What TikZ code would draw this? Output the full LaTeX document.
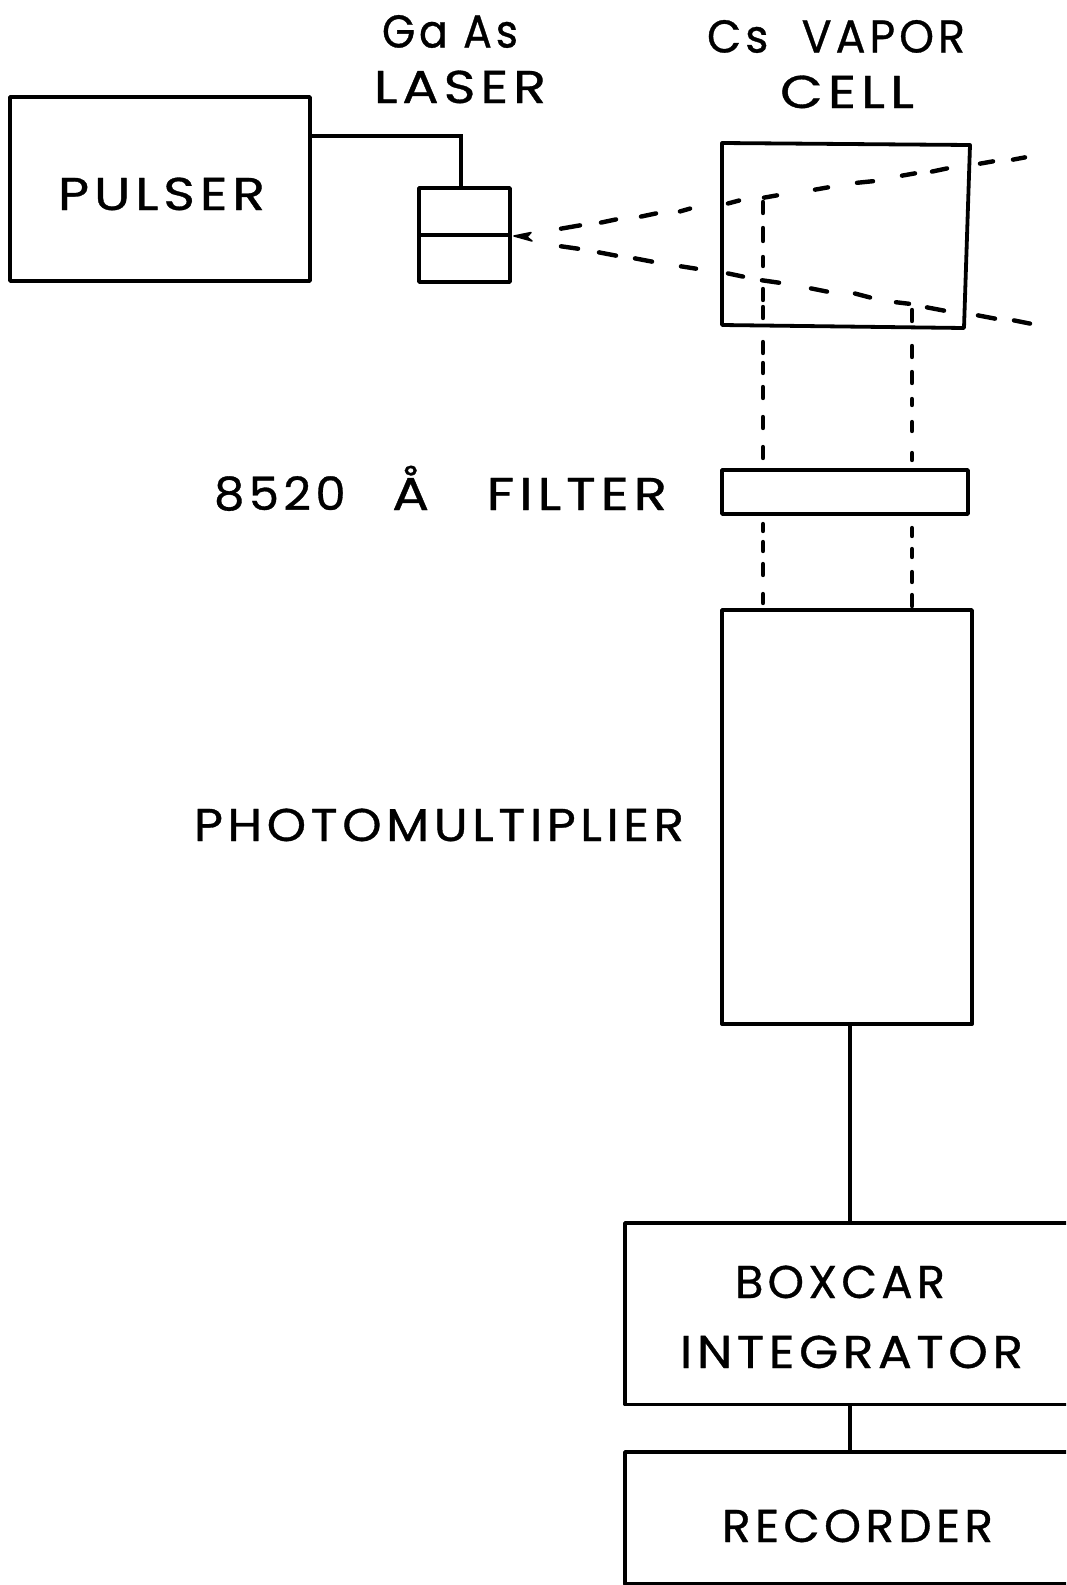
\documentclass[tikz,border=0pt]{standalone}
\usepackage{fontspec}
\setmainfont{Poppins}
\newfontfamily\lblfont[LetterSpace=9,FakeBold=0.7]{Poppins}
\newsavebox{\fitbox}
\newlength{\fitlen}
\newcommand{\fitlbl}[5]{% name, x0, x1, baseline, text
  \pgfmathsetmacro{\fitmid}{(#2+#3)/2}%
  \node[lbl] (#1) at (\fitmid,#4) {%
    \sbox{\fitbox}{\fontsize{46}{50}\selectfont\lblfont #5}%
    \setlength{\fitlen}{\wd\fitbox}%
    \pgfmathsetmacro{\fitratio}{(#3-#2)/\fitlen}%
    \scalebox{\fitratio}[1]{\usebox{\fitbox}}};}
\tikzset{
  boxnode/.style={draw=black,line width=3.8pt,inner sep=0pt,outer sep=0pt,line join=round},
  wire/.style={draw=black,line width=3.8pt},
  dashseg/.style={draw=black,line width=4.4pt,line cap=round,shorten <=2pt,shorten >=2pt},
  lbl/.style={anchor=base,inner sep=0pt,outer sep=0pt,text=black}
}
\begin{document}
\begin{tikzpicture}[x=1pt,y=-1pt]
\clip (0,0) rectangle (1066,1585);
\fill[white] (0,0) rectangle (1066,1585);
% boxes
\node[boxnode,minimum width=300pt,minimum height=184pt] (pulser) at (160,189) {};
\node[boxnode,minimum width=91pt,minimum height=94pt] (laser) at (464.5,235) {};
\node[boxnode,minimum width=246pt,minimum height=44pt] (filter) at (845,492) {};
\node[boxnode,minimum width=250pt,minimum height=414pt] (pmt) at (847,817) {};
\node[boxnode,minimum width=475pt,minimum height=181.5pt] (boxcar) at (862.5,1313.75) {};
\node[boxnode,minimum width=475pt,minimum height=132pt] (recorder) at (862.5,1518) {};
% laser divider
\draw[wire] (laser.west) -- (laser.east);
% vapor cell (slightly skewed)
\coordinate (cellTL) at (722,143);
\coordinate (cellTR) at (970,145);
\coordinate (cellBR) at (964,328);
\coordinate (cellBL) at (722,325);
\draw[wire,line join=round] (cellTL) -- (cellTR) -- (cellBR) -- (cellBL) -- cycle;
% connectors
\coordinate (pulserOut) at (310,136);
\coordinate (laserIn) at (461,188);
\draw[wire] (pulserOut) -| (laserIn);
\coordinate (pmtOut) at (850,1024);
\coordinate (boxIn) at (850,1223);
\draw[wire] (pmtOut) -- (boxIn);
\coordinate (boxOut) at (850,1403);
\coordinate (recIn) at (850,1452);
\draw[wire] (boxOut) -- (recIn);
% arrowhead at the laser
\filldraw[black,line width=1.5pt,line join=round] (514,236) -- (531,232.5) -- (527,237) -- (532,241) -- cycle;
% upper beam
\foreach \a/\b/\c/\d in {559/229/582/225,599/223/618/219,639/217/658/213,678/212/692/208,726/204/741/200,762/198/779/195,813/190/830/187,855/183/875/181,900/176/917/173,930/172/949/168,978/164/995/161,1011/160/1027/157}
  \draw[dashseg] (\a,\b) -- (\c,\d);
% lower beam
\foreach \a/\b/\c/\d in {559/246/580/249,597/252/618/256,633/258/654/262,679/266/698/269,726/273/745/277,760/280/781/283,809/288/829/292,853/293/872/298,894/302/911/304,925/307/946/311,976/315/997/319,1012/320/1032/324}
  \draw[dashseg] (\a,\b) -- (\c,\d);
% vertical dashes, left
\foreach \a/\b in {200/215,226/243,255/268,287/302,305/320,340/355,361/375,385/400,415/430,445/460,522/533,540/553,562/577,592/605}
  \draw[dashseg] (763,\a) -- (763,\b);
% vertical dashes, right
\foreach \a/\b in {308/323,344/359,370/385,397/407,420/433,451/462,526/538,547/559,570/584,593/608}
  \draw[dashseg] (912,\a) -- (912,\b);
% labels
\fitlbl{tPulser}{58}{265}{210}{PULSER}
\fitlbl{tGaAs}{382}{518}{47.5}{Ga As}
\fitlbl{tLaser}{374}{546}{103}{LASER}
\fitlbl{tCs}{707}{965}{52.5}{Cs\hspace{.75em}VAPOR}
\fitlbl{tCell}{780}{914}{108}{CELL}
\fitlbl{tFilter}{214}{667}{510}{\scalebox{.88}[1]{8520}\hspace{.85em}Å\hspace{1.05em}FILTER}
\fitlbl{tPmt}{194}{684}{841}{PHOTOMULTIPLIER}
\fitlbl{tBoxcar}{735}{945}{1298}{BOXCAR}
\fitlbl{tInt}{680}{1023}{1368}{INTEGRATOR}
\fitlbl{tRec}{722}{993}{1542}{RECORDER}
\end{tikzpicture}
\end{document}
